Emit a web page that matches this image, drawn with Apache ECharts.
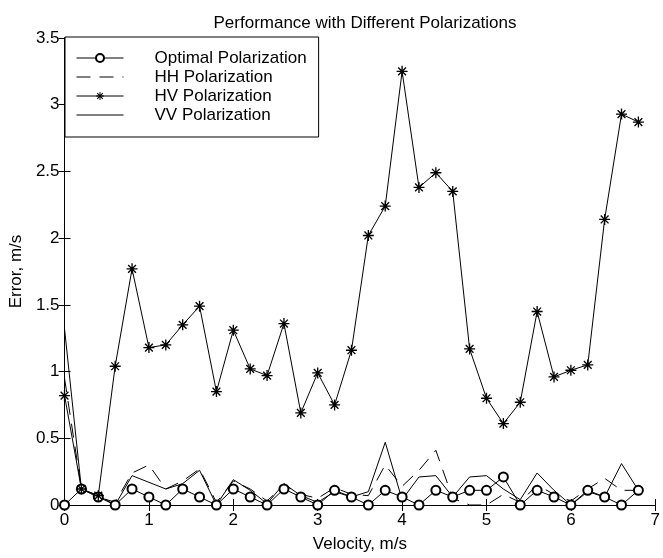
<!DOCTYPE html>
<html>
<head>
<meta charset="utf-8">
<script src="https://cdn.jsdelivr.net/npm/echarts@6/dist/echarts.min.js"></script>
<style>
  html, body { margin: 0; padding: 0; background: #fff; }
  #chart { width: 663px; height: 558px; }
</style>
</head>
<body>
<div id="chart"></div>
<script>
// velocity samples, m/s
const velocity = [0, 0.2, 0.4, 0.6, 0.8, 1.0, 1.2, 1.4, 1.6, 1.8, 2.0, 2.2, 2.4, 2.6, 2.8, 3.0, 3.2, 3.4,
  3.6, 3.8, 4.0, 4.2, 4.4, 4.6, 4.8, 5.0, 5.2, 5.4, 5.6, 5.8, 6.0, 6.2, 6.4, 6.6, 6.8];

// error, m/s
const optimalErr = [0, 0.12, 0.06, 0, 0.12, 0.06, 0, 0.12, 0.06, 0, 0.12, 0.06, 0, 0.12, 0.06, 0, 0.11, 0.06,
  0, 0.11, 0.06, 0, 0.11, 0.06, 0.11, 0.11, 0.21, 0, 0.11, 0.06, 0, 0.11, 0.06, 0, 0.11];
const hhErr = [0.95, 0.12, 0.06, 0.02, 0.24, 0.30, 0.12, 0.18, 0.27, 0.02, 0.18, 0.12, 0.03, 0.15, 0.08, 0.05, 0.13, 0.08,
  0.07, 0.30, 0.14, 0.26, 0.41, 0.05, 0, 0, 0.08, 0.02, 0.15, 0.08, 0.03, 0.12, 0.20, 0.11, 0.11];
const hvErr = [0.82, 0.12, 0.07, 1.04, 1.77, 1.18, 1.20, 1.35, 1.49, 0.85, 1.31, 1.02, 0.97, 1.36, 0.69, 0.99, 0.75, 1.16,
  2.02, 2.24, 3.25, 2.38, 2.49, 2.35, 1.17, 0.80, 0.61, 0.77, 1.45, 0.96, 1.01, 1.05, 2.14, 2.93, 2.87];
const vvErr = [1.32, 0.12, 0.07, 0, 0.22, 0.17, 0.12, 0.16, 0.26, 0, 0.19, 0.11, 0.01, 0.16, 0.07, 0.02, 0.10, 0.06,
  0.10, 0.47, 0.04, 0.21, 0.22, 0.06, 0.21, 0.22, 0.12, 0.04, 0.24, 0.11, 0, 0.10, 0.06, 0.31, 0.11];

const seriesNames = ['Optimal Polarization', 'HH Polarization', 'HV Polarization', 'VV Polarization'];

// matlab style asterisk marker
const star = 'path://M8.8 0L11.2 0L11.2 20L8.8 20Z M0 8.8L20 8.8L20 11.2L0 11.2Z ' +
  'M3.78 2.08L17.92 16.22L16.22 17.92L2.08 3.78Z M16.22 2.08L17.92 3.78L3.78 17.92L2.08 16.22Z';

const font = 'Liberation Sans, Arial, Helvetica, sans-serif';
const pairs = ys => velocity.map((v, i) => [v, ys[i]]);

const baseLine = { color: '#000', width: 1 };

function mkSeries(name, ys, extra) {
  return Object.assign({
    name: name,
    type: 'line',
    data: pairs(ys),
    xAxisIndex: 0,
    yAxisIndex: 0,
    showSymbol: false,
    symbol: 'none',
    lineStyle: Object.assign({}, baseLine),
    itemStyle: { color: '#000' },
    animation: false,
    emphasis: { disabled: true }
  }, extra);
}

const chart = echarts.init(document.getElementById('chart'), null, { renderer: 'canvas' });

const tickStyle = { show: true, inside: true, length: 6, lineStyle: { color: '#000', width: 1 } };
const lineStyle = { show: true, lineStyle: { color: '#000', width: 1 } };

// plain line entries get no marker in the legend
const legendData = seriesNames.map((n, i) =>
  (i === 1 || i === 3) ? { name: n, itemStyle: { opacity: 0 } } : { name: n });

chart.setOption({
  backgroundColor: '#fff',
  animation: false,
  title: {
    text: 'Performance with Different Polarizations',
    left: 360,
    top: 10,
    textAlign: 'center',
    textStyle: { fontFamily: font, fontSize: 17, fontWeight: 'normal', color: '#000' }
  },
  legend: {
    data: legendData,
    orient: 'vertical',
    left: 65,
    top: 37,
    padding: [12, 12, 13, 11],
    itemGap: 1,
    itemWidth: 47,
    itemHeight: 10,
    selectedMode: false,
    borderColor: '#000',
    borderWidth: 1,
    borderRadius: 0,
    backgroundColor: '#fff',
    lineStyle: { width: 1 },
    textStyle: { fontFamily: font, fontSize: 17, color: '#000', lineHeight: 18, padding: [0, 0, 0, 26] }
  },
  grid: { left: 63, right: 6, top: 38, bottom: 53, containLabel: false },
  xAxis: [{
    type: 'value', min: 0, max: 7, interval: 1, position: 'bottom',
    name: 'Velocity, m/s', nameLocation: 'middle', nameGap: 31,
    nameTextStyle: { fontFamily: font, fontSize: 17, color: '#000' },
    axisLine: lineStyle, axisTick: tickStyle, splitLine: { show: false },
    axisLabel: { fontFamily: font, fontSize: 17, color: '#000', margin: 7 }
  }, {
    type: 'value', min: 0, max: 7, interval: 1, position: 'top',
    axisLine: lineStyle, axisTick: tickStyle, splitLine: { show: false },
    axisLabel: { show: false }
  }],
  yAxis: [{
    type: 'value', min: 0, max: 3.5, interval: 0.5, position: 'left',
    name: 'Error, m/s', nameLocation: 'middle', nameGap: 22, nameRotate: 90,
    nameTextStyle: { fontFamily: font, fontSize: 17, color: '#000' },
    axisLine: lineStyle, axisTick: tickStyle, splitLine: { show: false },
    axisLabel: { fontFamily: font, fontSize: 17, color: '#000', margin: 5 }
  }, {
    type: 'value', min: 0, max: 3.5, interval: 0.5, position: 'right',
    axisLine: lineStyle, axisTick: tickStyle, splitLine: { show: false },
    axisLabel: { show: false }
  }],
  series: [
    mkSeries(seriesNames[0], optimalErr, {
      showSymbol: true, symbol: 'emptyCircle', symbolSize: 9,
      itemStyle: { color: '#000', borderColor: '#000', borderWidth: 0.9 }
    }),
    mkSeries(seriesNames[1], hhErr, {
      lineStyle: Object.assign({}, baseLine, { type: [14, 9] })
    }),
    mkSeries(seriesNames[2], hvErr, {
      showSymbol: true, symbol: star, symbolSize: 11,
      itemStyle: { color: '#000' }
    }),
    mkSeries(seriesNames[3], vvErr)
  ]
});
</script>
</body>
</html>
